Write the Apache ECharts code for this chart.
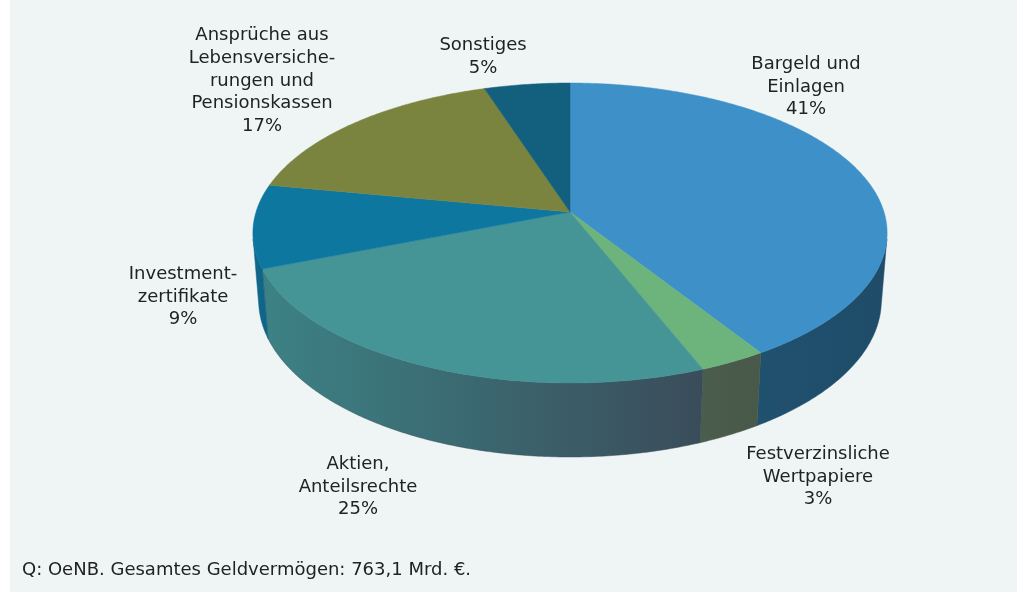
<!DOCTYPE html>
<html>
<head>
<meta charset="utf-8">
<script src="https://cdn.jsdelivr.net/npm/echarts@6/dist/echarts.min.js"></script>
<style>
  html, body { margin: 0; padding: 0; background: #fff; }
  #chart { width: 1017px; height: 592px; }
</style>
</head>
<body>
<div id="chart"></div>
<script>
// Geldvermögen der privaten Haushalte, Anteile in %
const categories = [
  "Bargeld und\nEinlagen",
  "Festverzinsliche\nWertpapiere",
  "Aktien,\nAnteilsrechte",
  "Investment-\nzertifikate",
  "Ansprüche aus\nLebensversiche-\nrungen und\nPensionskassen",
  "Sonstiges"
];
const shares = [41, 3, 25, 9, 17, 5];
const sourceNote = "Q: OeNB. Gesamtes Geldvermögen: 763,1 Mrd. €.";

const topColors = ["#3d91c8", "#6db37c", "#459496", "#0e77a0", "#7a843e", "#135f7e"];
const sideColors = [
  ["#20516f", "#1e4c69"],
  ["#4b5d4d", "#485849"],
  ["#3c8285", "#3a4c5a"],
  ["#10688c", "#0f6486"],
  ["#5e6630", "#5a622e"],
  ["#0f4c66", "#0e4862"]
];
// label anchor points (pixels), placed like the original "best fit"
const labelPos = [[806, 87], [818, 477], [358, 487], [183, 297], [262, 81], [483, 57]];

// simple perspective camera for the tilted pie
const view = { cx: 570, cy: 212, f: 1981.6, dist: 6.311, sinA: 0.4683, cosA: 0.8836, height: 0.2455 };

function project(theta, h) {
  const X = Math.sin(theta), Z = Math.cos(theta);
  const yc = Z * view.sinA + h * view.cosA;
  const zc = view.dist + Z * view.cosA - h * view.sinA;
  return [view.cx + view.f * X / zc, view.cy - view.f * yc / zc];
}

const total = shares.reduce((a, b) => a + b, 0);
const cumStart = [];
shares.reduce((acc, v, i) => { cumStart[i] = acc; return acc + v; }, 0);

const phi = Math.acos(1 / (view.dist * view.cosA));
const visFrom = Math.PI - phi, visTo = Math.PI + phi;

function arc(a0, a1, h) {
  const pts = [];
  const n = Math.max(2, Math.ceil((a1 - a0) / 0.01));
  for (let k = 0; k <= n; k++) pts.push(project(a0 + (a1 - a0) * k / n, h));
  return pts;
}

const chart = echarts.init(document.getElementById("chart"));

chart.setOption({
  backgroundColor: "#eff5f5",
  animation: false,
  graphic: [
    { type: "rect", left: 0, top: 0, shape: { width: 10, height: 592 }, style: { fill: "#ffffff" } },
    {
      type: "text", left: 22, top: 561,
      style: { text: sourceNote, fill: "#222", font: "18px 'DejaVu Sans'" }
    }
  ],
  series: [{
    type: "custom",
    coordinateSystem: "none",
    silent: true,
    data: shares.map((v, i) => ({ value: v, name: categories[i] })),
    renderItem: function (params, api) {
      const i = params.dataIndex;
      const a0 = cumStart[i] / total * Math.PI * 2;
      const a1 = (cumStart[i] + api.value(0)) / total * Math.PI * 2;
      const children = [];

      // visible front wall
      const s0 = Math.max(a0, visFrom), s1 = Math.min(a1, visTo);
      if (s1 > s0) {
        const pts = arc(s0, s1, 0).concat(arc(s0, s1, -view.height).reverse());
        children.push({
          type: "polygon",
          shape: { points: pts },
          style: {
            fill: new echarts.graphic.LinearGradient(0, 0, 1, 0, [
              { offset: 0, color: sideColors[i][0] },
              { offset: 1, color: sideColors[i][1] }
            ]),
            stroke: sideColors[i][1], lineWidth: 0.5
          }
        });
      }

      // top face
      const top = [[view.cx, view.cy]].concat(arc(a0, a1, 0));
      children.push({
        type: "polygon",
        shape: { points: top },
        style: { fill: topColors[i], stroke: topColors[i], lineWidth: 0.5 }
      });

      // label
      children.push({
        type: "text",
        x: labelPos[i][0],
        y: labelPos[i][1],
        style: {
          text: categories[i] + "\n" + api.value(0) + "%",
          fill: "#222",
          fontSize: 18,
          fontFamily: "DejaVu Sans",
          lineHeight: 22.7,
          align: "center",
          verticalAlign: "middle"
        }
      });
      return { type: "group", children: children };
    }
  }]
});
</script>
</body>
</html>
